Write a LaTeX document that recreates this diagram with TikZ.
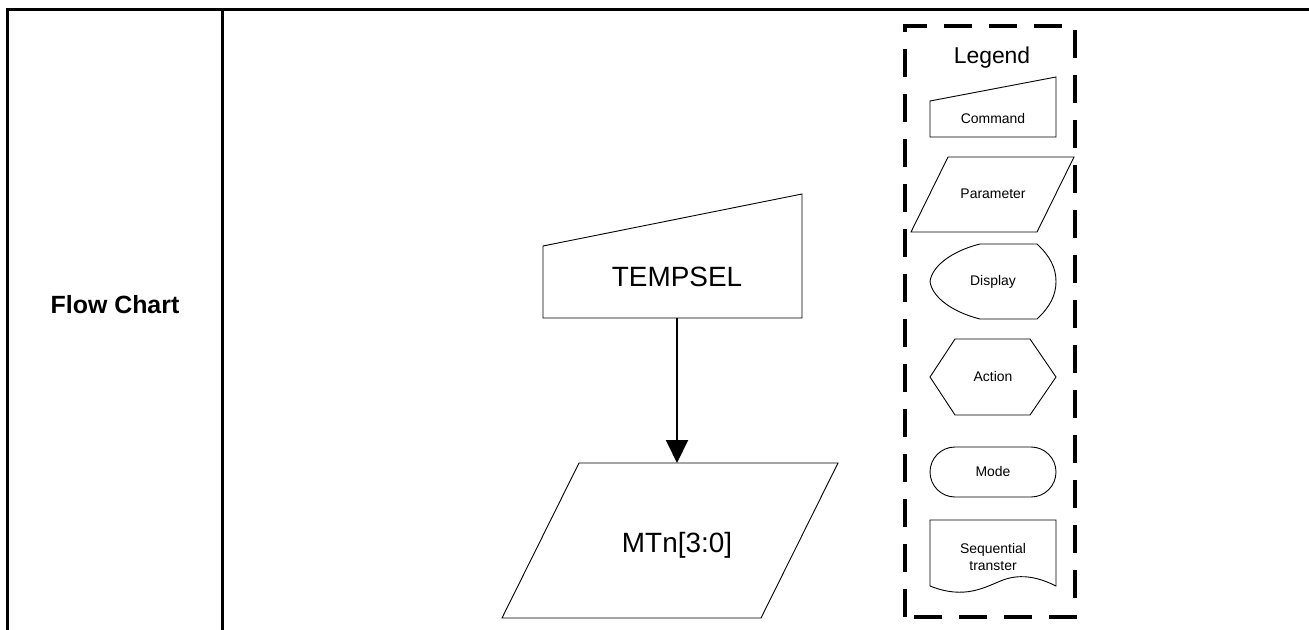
\documentclass[tikz,border=0pt]{standalone}
\usepackage{fontspec}
\setmainfont{Liberation Sans}
\usetikzlibrary{arrows.meta}
\tikzset{
  tbl/.style={line width=3bp, line cap=rect},
  shp/.style={line width=0.9bp, draw=black},
  lbl/.style={inner sep=0pt, align=center, font=\fontsize{14}{17}\selectfont},
  big/.style={inner sep=0pt, font=\fontsize{28}{32}\selectfont},
  legendbox/.style={line width=3.5bp, dash pattern=on 28bp off 17bp},
  flow/.style={line width=2bp, -{Triangle[length=23bp,width=22bp]}}
}
\begin{document}
\begin{tikzpicture}[x=1bp,y=-1bp]
\useasboundingbox (0,0) rectangle (1309,630);
% table frame
\draw[tbl] (1309,10) -- (7.5,10) -- (7.5,632);
\draw[tbl] (222,10) -- (222,632);
\node[inner sep=0pt, font=\bfseries\fontsize{25}{30}\selectfont] (title) at (115,305) {Flow Chart};

% main command shape
\draw[shp] (543,246) -- (802,194) -- (802,318) -- (543,318) -- cycle;
\node[big] (tempsel) at (677,277) {TEMPSEL};
\coordinate (cmdout) at (677,318);
% main parameter shape
\draw[shp] (579,463) -- (838,463) -- (761,618) -- (502,618) -- cycle;
\node[big] (mtn) at (677,545) {MTn[3:0]};
\coordinate (parin) at (677,463);
\draw[flow] (cmdout) -- (parin);

% legend box
\draw[legendbox] (905,617) -- (905,26) -- (1075,26) -- (1075,617) -- cycle;
\node[inner sep=0pt, font=\fontsize{23}{28}\selectfont] (legend) at (992,58) {Legend};

% Command
\draw[shp] (930,101) -- (1056,77) -- (1056,137) -- (930,137) -- cycle;
\node[lbl] (lcmd) at (993,119) {Command};
% Parameter
\draw[shp] (948,157) -- (1074,157) -- (1037,232) -- (911,232) -- cycle;
\node[lbl] (lpar) at (993,194) {Parameter};
% Display
\draw[shp] (980,244) -- (1037,244) .. controls (1050,256) and (1056,268) .. (1056,281.5)
  .. controls (1056,295) and (1050,307) .. (1037,319) -- (980,319)
  .. controls (952,312) and (932,297) .. (930,281.5)
  .. controls (932,266) and (952,251) .. (980,244) -- cycle;
\node[lbl] (ldisp) at (993,282) {Display};
% Action
\draw[shp] (955,339) -- (1030,339) -- (1056,377) -- (1030,415) -- (955,415) -- (930,377) -- cycle;
\node[lbl] (lact) at (993,377) {Action};
% Mode
\draw[shp, rounded corners=25bp] (930,447) rectangle (1056,497);
\node[lbl] (lmode) at (993,472) {Mode};
% Sequential transfer
\draw[shp] (930,586) -- (930,520) -- (1056,520) -- (1056,586)
  .. controls (1040,578) and (1022,573) .. (1003,580)
  .. controls (985,587) and (965,600) .. (930,586) -- cycle;
\node[lbl] (lseq) at (993,557) {Sequential\\transter};
\end{tikzpicture}
\end{document}
